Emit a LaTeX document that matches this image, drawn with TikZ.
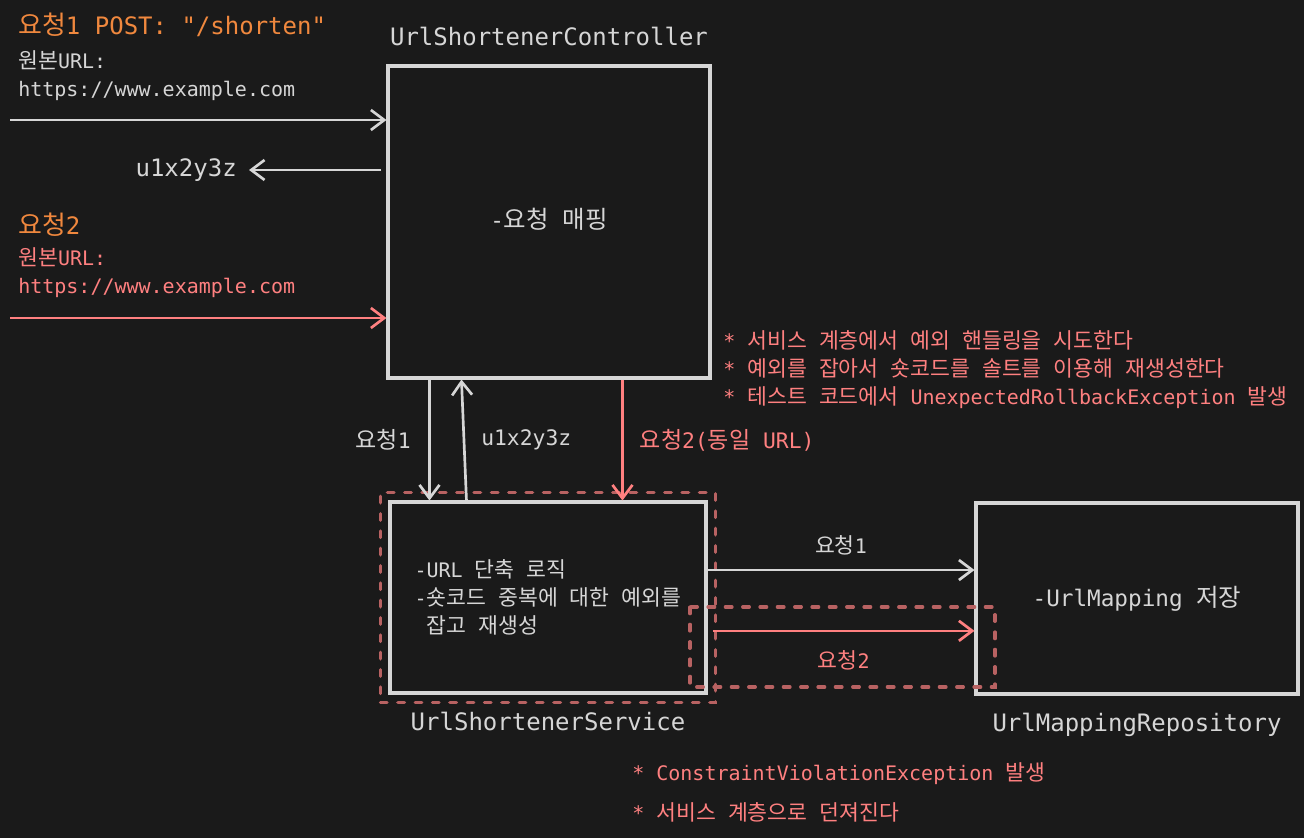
\documentclass[tikz,border=0pt]{standalone}
\usepackage{fontspec}
\setmainfont{DejaVu Sans Mono}[Ligatures=TeXOff]
\newfontfamily\hangulfont{Noto Sans CJK KR}[Scale=1.08]
% Hangul syllables switch to the CJK font by themselves
\XeTeXinterchartokenstate=1
\newXeTeXintercharclass\hangulclass
\count255="AC00
\loop\ifnum\count255<"D7A4 \XeTeXcharclass\count255=\hangulclass \advance\count255 by 1 \repeat
\XeTeXinterchartoks 0 \hangulclass={\begingroup\hangulfont}
\XeTeXinterchartoks 4095 \hangulclass={\begingroup\hangulfont}
\XeTeXinterchartoks \hangulclass 0={\endgroup}
\XeTeXinterchartoks \hangulclass 4095={\endgroup}
\usepackage{tikz}
\usetikzlibrary{positioning, fit, arrows.meta}

\definecolor{bgdark}{HTML}{1A1A1A}
\definecolor{linegray}{HTML}{D6D6D6}
\definecolor{reqorange}{HTML}{F0883E}
\definecolor{reqred}{HTML}{FF8080}
\definecolor{guardred}{HTML}{B86262}

\tikzset{
    comp/.style={draw=linegray, line width=2.3pt, fill=bgdark, text=linegray,
        font=\fontsize{15}{21}\selectfont},
    comptitle/.style={text=linegray, inner sep=0pt, font=\fontsize{18}{22}\selectfont},
    plain/.style={text=linegray, inner sep=0pt, align=left, font=\fontsize{15}{21}\selectfont},
    redtext/.style={plain, text=reqred},
    reqtitle/.style={text=reqorange, inner sep=0pt, font=\fontsize{18}{22}\selectfont},
    flow/.style={draw=linegray, line width=2pt, -{Straight Barb[length=10pt, width=15pt, line width=2pt]}},
    flowred/.style={flow, draw=reqred},
    guard/.style={draw=guardred, line width=2.4pt, dash pattern=on 5pt off 8pt, line cap=round},
}

\begin{document}
\begin{tikzpicture}[x=0.75pt, y=-0.75pt]

    \fill[bgdark] (0,0) rectangle (1304,838);
    \useasboundingbox (0,0) rectangle (1304,838);

    % components
    \node[comp, minimum width=241.5pt, minimum height=234pt, font=\fontsize{17}{21}\selectfont]   (ctrl) at (549,222)
        {\raisebox{6pt}{-요청 매핑}};
    \node[comptitle]   (ctrltitle) [above=14pt of ctrl] {UrlShortenerController};

    \node[comp, minimum width=237pt, minimum height=143.25pt, align=left]   (svc) at (548,597.5)
        {-URL 단축 로직\\-숏코드 중복에 대한 예외를\\\phantom{-}잡고 재생성};
    \node[comptitle]   (svctitle) [below=13pt of svc] {UrlShortenerService};

    \node[comp, minimum width=241.5pt, minimum height=143.25pt, font=\fontsize{17}{21}\selectfont]   (repo) at (1137,598.5)
        {-UrlMapping 저장};
    \node[comptitle]   (repotitle) [below=13pt of repo] {UrlMappingRepository};

    \node [guard, fit=(svc), inner sep=6pt] (svcguard) {};
    \draw [guard] (690,607) rectangle (995,687);

    % requests from the client
    \node[reqtitle, anchor=west]   (req1) at (18,25) {요청1 POST: "/shorten"};
    \node[plain, anchor=west]      (url1) at (18,76) {원본URL:\\https://www.example.com};
    \node[reqtitle, anchor=west]   (req2) at (18,225) {요청2};
    \node[redtext, anchor=west]    (url2) at (18,273) {원본URL:\\https://www.example.com};
    \node[comptitle, anchor=east]  (resp1) at (237,170) {u1x2y3z};

    \coordinate (in1) at (10,120);
    \coordinate (in2) at (10,318);

    \draw[flow]    (in1) -- (in1 -| ctrl.west);
    \draw[flow]    ([xshift=-4pt]ctrl.west |- resp1) -- ([xshift=9pt]resp1.east);
    \draw[flowred] (in2) -- (in2 -| ctrl.west);

    % controller <-> service
    \draw[flow] ([xshift=32.25pt]ctrl.south west) -- ([xshift=32.25pt]ctrl.south west |- svc.north)
        node[midway, left=13pt, plain, font=\fontsize{16}{20}\selectfont] {요청1};
    \draw[flow] ([xshift=58.5pt]svc.north west) -- ([xshift=56.25pt]ctrl.south west)
        node[midway, right=12pt, plain, font=\fontsize{16}{20}\selectfont] {u1x2y3z};
    \draw[flowred] ([xshift=177pt]ctrl.south west) -- ([xshift=177pt]ctrl.south west |- svc.north)
        node[midway, right=12pt, redtext, font=\fontsize{16}{20}\selectfont] {요청2(동일 URL)};

    % service -> repository
    \draw[flow] ([yshift=20.6pt]svc.east) -- ([yshift=20.6pt]svc.east -| repo.west)
        node[midway, above=10pt, plain] {요청1};
    \draw[flowred] ([xshift=4pt, yshift=-25pt]svc.east) -- ([yshift=-25pt]svc.east -| repo.west)
        node[midway, below=14pt, redtext] {요청2};

    % notes
    \node[redtext, anchor=west] (ctrlnotes) at (723,370)
        {* 서비스 계층에서 예외 핸들링을 시도한다\\* 예외를 잡아서 숏코드를 솔트를 이용해 재생성한다\\* 테스트 코드에서 UnexpectedRollbackException 발생};
    \node[redtext, anchor=west] (repnotes) at (632,792)
        {* ConstraintViolationException 발생\\[9pt]* 서비스 계층으로 던져진다};

\end{tikzpicture}
\end{document}
